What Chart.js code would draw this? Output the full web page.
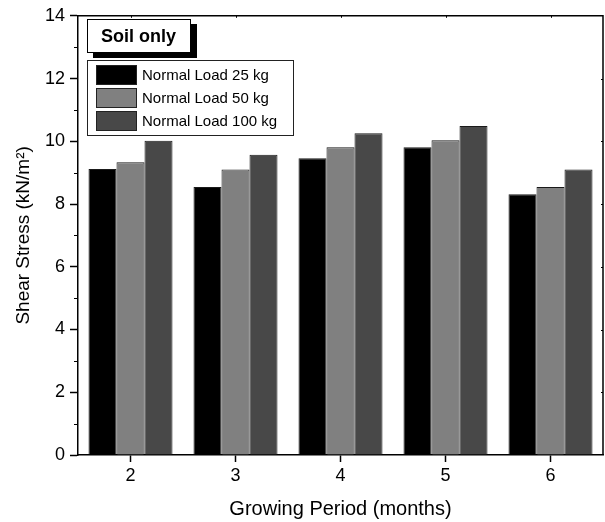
<!DOCTYPE html>
<html>
<head>
<meta charset="utf-8">
<script src="https://cdn.jsdelivr.net/npm/chart.js@4"></script>
<style>
  html, body { margin: 0; padding: 0; background: #fff; }
  #chart { display: block; }
</style>
</head>
<body>
<canvas id="chart" width="605" height="522"></canvas>
<script>
// growing period in months
const months = ['2', '3', '4', '5', '6'];

// shear stress (kN/m2) per normal load
const load25 = [9.12, 8.54, 9.46, 9.81, 8.31];
const load50 = [9.33, 9.10, 9.81, 10.03, 8.54];
const load100 = [10.02, 9.57, 10.26, 10.49, 9.10];

const seriesLabels = ['Normal Load 25 kg', 'Normal Load 50 kg', 'Normal Load 100 kg'];
const seriesColors = ['#000000', '#808080', '#484848'];

const boxTitle = 'Soil only';
const yMin = 0, yMax = 14;

const FONT = '"Liberation Sans", Arial, sans-serif';

// closed frame on top/right plus minor ticks on the y axis
const framePlugin = {
    id: 'frame',
    afterDraw(chart) {
        const { ctx, chartArea: a, scales: { x, y } } = chart;
        ctx.save();
        ctx.strokeStyle = '#000';
        ctx.lineWidth = 1.5;
        ctx.beginPath();
        ctx.moveTo(a.left, a.top);
        ctx.lineTo(a.right, a.top);
        ctx.lineTo(a.right, a.bottom);
        ctx.stroke();

        ctx.lineWidth = 1;
        ctx.beginPath();
        for (let v = yMin + 1; v < yMax; v += 2) {
            const py = Math.round(y.getPixelForValue(v)) + 0.5;
            ctx.moveTo(a.left - 4, py);
            ctx.lineTo(a.left, py);
        }
        // small inward marks on the top and right edges
        months.forEach((m, i) => {
            const px = Math.round(x.getPixelForValue(i)) + 0.5;
            ctx.moveTo(px, a.top);
            ctx.lineTo(px, a.top + 2);
        });
        for (let v = yMin + 2; v < yMax; v += 2) {
            const py = Math.round(y.getPixelForValue(v)) + 0.5;
            ctx.moveTo(a.right, py);
            ctx.lineTo(a.right - 2, py);
        }
        ctx.stroke();
        ctx.restore();
    }
};

// "Soil only" tag and legend box drawn inside the plot area
const legendPlugin = {
    id: 'boxLegend',
    afterDraw(chart) {
        const ctx = chart.ctx;
        ctx.save();

        // tag with drop shadow
        ctx.fillStyle = '#000';
        ctx.fillRect(93, 24, 104, 34);
        ctx.fillStyle = '#fff';
        ctx.fillRect(87, 19, 104, 34);
        ctx.strokeStyle = '#000';
        ctx.lineWidth = 1;
        ctx.strokeRect(87.5, 19.5, 103, 33);
        ctx.fillStyle = '#000';
        ctx.font = 'bold 18px ' + FONT;
        ctx.textBaseline = 'middle';
        ctx.textAlign = 'left';
        ctx.fillText(boxTitle, 101, 37);

        // legend frame
        ctx.fillStyle = '#fff';
        ctx.fillRect(87, 60, 207, 76);
        ctx.strokeStyle = '#222';
        ctx.strokeRect(87.5, 60.5, 206, 75);

        ctx.font = '15px ' + FONT;
        chart.data.datasets.forEach((ds, i) => {
            const top = 65 + i * 23;
            ctx.fillStyle = ds.backgroundColor;
            ctx.fillRect(96, top, 41, 20);
            ctx.strokeStyle = '#222';
            ctx.strokeRect(96.5, top + 0.5, 40, 19);
            ctx.fillStyle = '#000';
            ctx.fillText(ds.label, 142, top + 10.5);
        });
        ctx.restore();
    }
};

const ctx = document.getElementById('chart').getContext('2d');
new Chart(ctx, {
    type: 'bar',
    data: {
        labels: months,
        datasets: [load25, load50, load100].map((vals, i) => ({
            label: seriesLabels[i],
            data: vals,
            backgroundColor: seriesColors[i],
            borderColor: '#1a1a1a',
            borderWidth: 1,
            categoryPercentage: 0.8,
            barPercentage: 1.0
        }))
    },
    options: {
        responsive: false,
        animation: false,
        devicePixelRatio: 1,
        layout: { padding: { top: 15, right: 2, left: 0, bottom: 0 } },
        plugins: {
            legend: { display: false },
            tooltip: { enabled: false }
        },
        scales: {
            x: {
                offset: true,
                grid: {
                    offset: false,
                    drawOnChartArea: false,
                    tickLength: 7,
                    tickColor: '#000',
                    tickWidth: 1.5
                },
                border: { color: '#000', width: 1.5 },
                ticks: {
                    color: '#000',
                    font: { family: FONT, size: 18 },
                    padding: 3,
                    maxRotation: 0
                },
                title: {
                    display: true,
                    text: 'Growing Period (months)',
                    color: '#000',
                    font: { family: FONT, size: 20 },
                    padding: { top: 0, bottom: 1 }
                },
                afterFit(scale) { scale.height = 67; }
            },
            y: {
                min: yMin,
                max: yMax,
                grid: {
                    drawOnChartArea: false,
                    tickLength: 8,
                    tickColor: '#000',
                    tickWidth: 1.5
                },
                border: { color: '#000', width: 1.5 },
                ticks: {
                    stepSize: 2,
                    color: '#000',
                    font: { family: FONT, size: 18 },
                    padding: 5
                },
                title: {
                    display: true,
                    text: 'Shear Stress (kN/m²)',
                    color: '#000',
                    font: { family: FONT, size: 19 },
                    padding: { top: 12, bottom: 0 }
                },
                afterFit(scale) { scale.width = 78; }
            }
        }
    },
    plugins: [framePlugin, legendPlugin]
});
</script>
</body>
</html>
